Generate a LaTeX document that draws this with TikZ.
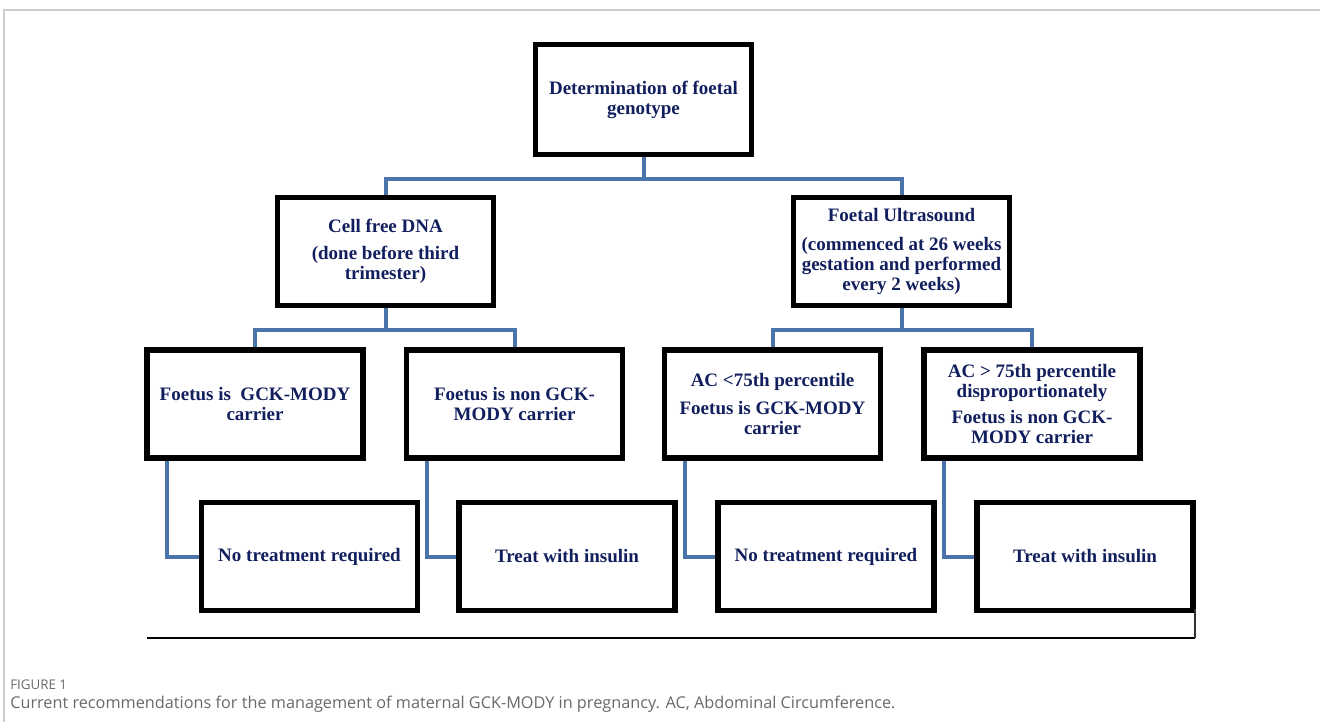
\documentclass[tikz,border=0pt]{standalone}
\usepackage{fontspec}
\setmainfont{Liberation Serif}
\newfontfamily\capfont{Open Sans}
\usetikzlibrary{calc}
\definecolor{navytext}{RGB}{18,31,94}
\definecolor{linkblue}{RGB}{74,116,170}
\definecolor{framegray}{RGB}{205,205,205}
\definecolor{capgray}{RGB}{105,105,105}
\begin{document}
\begin{tikzpicture}[x=0.75pt,y=-0.75pt,
  box/.style={draw=black, line width=3.8pt, fill=white, rectangle,
    minimum width=162pt, minimum height=81pt, inner sep=0pt, align=center,
    font=\bfseries\fontsize{14.25}{15}\selectfont, text=navytext},
  link/.style={draw=linkblue, line width=3pt},
  baseline rule/.style={draw=black, line width=2.2pt},
  tick rule/.style={draw=black!80, line width=0.8pt},
  capstyle/.style={anchor=west, inner sep=0pt, text=capgray}]
\useasboundingbox (0,0) rectangle (1320,722);
% frame
\coordinate (fbl) at (4,722);
\coordinate (ftl) at (4,10);
\coordinate (ftr) at (1320,10);
\draw[framegray, line width=1.2pt] (fbl) -- (ftl) -- (ftr);

% nodes
\node[box, minimum height=83pt] (top) at (643.5,99.5) {Determination of foetal\\genotype};
\node[box] (cf) at (385.5,251.5) {Cell free DNA\\[5pt](done before third\\trimester)};
\node[box] (fu) at (901.5,251.5) {Foetal Ultrasound\\[7pt](commenced at 26 weeks\\gestation and performed\\every 2 weeks)};
\node[box] (A) at (255,404) {Foetus is\ \ GCK-MODY\\carrier};
\node[box] (B) at (514.5,404) {Foetus is non GCK-\\MODY carrier};
\node[box] (C) at (772.5,404) {AC <75th percentile\\[6pt]Foetus is GCK-MODY\\carrier};
\node[box] (D) at (1032,404) {AC > 75th percentile\\disproportionately\\[5pt]Foetus is non GCK-\\MODY carrier};
\node[box] (E) at (309.5,556.5) {No treatment required};
\node[box] (F) at (567,556.5) {Treat with insulin};
\node[box] (G) at (826,556.5) {No treatment required};
\node[box] (H) at (1085,556.5) {Treat with insulin};

% connectors
\draw[link] (top.south) -- ++(0,22) -| (cf.north);
\draw[link] (top.south) -- ++(0,22) -| (fu.north);
\draw[link] (cf.south) -- ++(0,22) -| (A.north);
\draw[link] (cf.south) -- ++(0,22) -| (B.north);
\draw[link] (fu.south) -- ++(0,22) -| (C.north);
\draw[link] (fu.south) -- ++(0,22) -| (D.north);
\draw[link] ($(A.south west)+(23,0)$) |- (E.west);
\draw[link] ($(B.south west)+(23,0)$) |- (F.west);
\draw[link] ($(C.south west)+(23,0)$) |- (G.west);
\draw[link] ($(D.south west)+(23,0)$) |- (H.west);

% bottom rule
\coordinate (rl) at (147,638);
\coordinate (rr) at (1195,638);
\coordinate (rt) at (1195,609);
\draw[baseline rule] (rl) -- (rr);
\draw[tick rule] (rr) -- (rt);

% caption
\node[capstyle, font=\capfont\fontsize{10}{12}\selectfont] (fig) at (10,685) {FIGURE 1};
\node[capstyle, font=\capfont\fontsize{12.2}{14}\selectfont] (cap) at (10,704) {Current recommendations for the management of maternal GCK-MODY in pregnancy. AC, Abdominal Circumference.};
\end{tikzpicture}
\end{document}
